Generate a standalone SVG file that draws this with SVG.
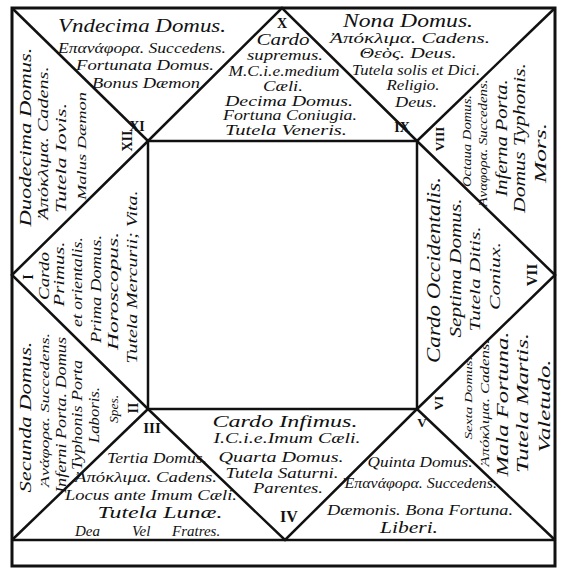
<svg xmlns="http://www.w3.org/2000/svg" width="570" height="580" viewBox="0 0 570 580">
<style>
.ln{fill:none;stroke:#111;stroke-width:2.5;stroke-linejoin:miter}
.fr{fill:none;stroke:#111;stroke-width:3}
text{font-family:"Liberation Serif","DejaVu Serif",serif;font-style:italic;fill:#111;text-anchor:middle}
.n{font-style:normal;font-weight:bold}
</style>
<rect width="570" height="580" fill="#fff"/>
<g id="connectors">
<rect class="fr" x="12" y="8" width="543" height="558"/>
<line class="ln" x1="12" y1="540" x2="555" y2="540"/>
<polygon class="ln" points="12,275 148,141 282,8 417,141 555,275 417,409 285,540 148,409"/>
<rect class="ln" x="148" y="141" width="269" height="268"/>
<line class="ln" x1="12" y1="8" x2="148" y2="141"/>
<line class="ln" x1="555" y1="8" x2="417" y2="141"/>
<line class="ln" x1="12" y1="540" x2="148" y2="409"/>
<line class="ln" x1="555" y1="540" x2="417" y2="409"/>
</g>
<g id="house-11">
<text x="142" y="32" font-size="19" textLength="168" lengthAdjust="spacingAndGlyphs">Vndecima Domus.</text>
<text x="142" y="53" font-size="14" textLength="168" lengthAdjust="spacingAndGlyphs">Επανάφορα. Succedens.</text>
<text x="145" y="70" font-size="15" textLength="138" lengthAdjust="spacingAndGlyphs">Fortunata Domus.</text>
<text x="146" y="88" font-size="15" textLength="108" lengthAdjust="spacingAndGlyphs">Bonus Dæmon</text>
<text class="n" x="137" y="131" font-size="14">XI</text>
</g>
<g id="house-10">
<text class="n" x="282" y="28" font-size="14">X</text>
<text x="283" y="45" font-size="17" textLength="53" lengthAdjust="spacingAndGlyphs">Cardo</text>
<text x="285" y="60" font-size="14" textLength="76" lengthAdjust="spacingAndGlyphs">supremus.</text>
<text x="284" y="76" font-size="14" textLength="111" lengthAdjust="spacingAndGlyphs">M.C.i.e.medium</text>
<text x="283" y="91" font-size="14" textLength="40" lengthAdjust="spacingAndGlyphs">Cæli.</text>
<text x="289" y="106" font-size="14" textLength="128" lengthAdjust="spacingAndGlyphs">Decima Domus.</text>
<text x="290" y="120" font-size="14" textLength="134" lengthAdjust="spacingAndGlyphs">Fortuna Coniugia.</text>
<text x="286" y="135" font-size="14" textLength="122" lengthAdjust="spacingAndGlyphs">Tutela Veneris.</text>
</g>
<g id="house-9">
<text x="408" y="27" font-size="19" textLength="130" lengthAdjust="spacingAndGlyphs">Nona Domus.</text>
<text x="410" y="43" font-size="14" textLength="160" lengthAdjust="spacingAndGlyphs">Ἀπόκλιμα. Cadens.</text>
<text x="408" y="58" font-size="14" textLength="97" lengthAdjust="spacingAndGlyphs">Θεὸς. Deus.</text>
<text x="416" y="75" font-size="14" textLength="128" lengthAdjust="spacingAndGlyphs">Tutela solis et Dici.</text>
<text x="413" y="90" font-size="15" textLength="53" lengthAdjust="spacingAndGlyphs">Religio.</text>
<text x="416" y="107" font-size="14" textLength="42" lengthAdjust="spacingAndGlyphs">Deus.</text>
<text class="n" x="402" y="132" font-size="14">IX</text>
</g>
<g id="house-12">
<text transform="translate(31,137) rotate(-90)" font-size="17" textLength="179" lengthAdjust="spacingAndGlyphs">Duodecima Domus.</text>
<text transform="translate(48,143) rotate(-90)" font-size="14" textLength="153" lengthAdjust="spacingAndGlyphs">Ἀπόκλιμα. Cadens.</text>
<text transform="translate(66,158) rotate(-90)" font-size="15" textLength="110" lengthAdjust="spacingAndGlyphs">Tutela Iovis.</text>
<text transform="translate(86,146) rotate(-90)" font-size="13" textLength="108" lengthAdjust="spacingAndGlyphs">Malus Dæmon</text>
<text class="n" transform="translate(132,141) rotate(-90)" font-size="14">XII</text>
</g>
<g id="house-1">
<text class="n" transform="translate(33,277) rotate(-90)" font-size="14">I</text>
<text transform="translate(49,276) rotate(-90)" font-size="15" textLength="48" lengthAdjust="spacingAndGlyphs">Cardo</text>
<text transform="translate(64,274) rotate(-90)" font-size="15" textLength="65" lengthAdjust="spacingAndGlyphs">Primus.</text>
<text transform="translate(82,282) rotate(-90)" font-size="14" textLength="90" lengthAdjust="spacingAndGlyphs">et orientalis.</text>
<text transform="translate(101,289) rotate(-90)" font-size="15" textLength="108" lengthAdjust="spacingAndGlyphs">Prima Domus.</text>
<text transform="translate(118,291) rotate(-90)" font-size="15" textLength="118" lengthAdjust="spacingAndGlyphs">Horoscopus.</text>
<text transform="translate(137,277) rotate(-90)" font-size="15" textLength="173" lengthAdjust="spacingAndGlyphs">Tutela Mercurii; Vita.</text>
</g>
<g id="house-2">
<text transform="translate(31,417) rotate(-90)" font-size="16" textLength="151" lengthAdjust="spacingAndGlyphs">Secunda Domus.</text>
<text transform="translate(49,410) rotate(-90)" font-size="13" textLength="154" lengthAdjust="spacingAndGlyphs">Ἀνάφορα. Succedens.</text>
<text transform="translate(66,415) rotate(-90)" font-size="14" textLength="156" lengthAdjust="spacingAndGlyphs">Inferni Porta. Domus</text>
<text transform="translate(82,415) rotate(-90)" font-size="14" textLength="110" lengthAdjust="spacingAndGlyphs">Typhonis Porta</text>
<text transform="translate(99,415) rotate(-90)" font-size="14" textLength="56" lengthAdjust="spacingAndGlyphs">Laboris.</text>
<text transform="translate(118,409) rotate(-90)" font-size="13" textLength="28" lengthAdjust="spacingAndGlyphs">Spes.</text>
<text class="n" transform="translate(138,408) rotate(-90)" font-size="14">II</text>
</g>
<g id="house-3">
<text class="n" x="152" y="433" font-size="15">III</text>
<text x="157" y="463" font-size="15" textLength="100" lengthAdjust="spacingAndGlyphs">Tertia Domus.</text>
<text x="146" y="482" font-size="14" textLength="142" lengthAdjust="spacingAndGlyphs">Ἀπόκλιμα. Cadens.</text>
<text x="151" y="500" font-size="15" textLength="172" lengthAdjust="spacingAndGlyphs">Locus ante Imum Cæli.</text>
<text x="160" y="518" font-size="17" textLength="125" lengthAdjust="spacingAndGlyphs">Tutela Lunæ.</text>
<text y="536" font-size="15" style="text-anchor:start"><tspan x="75">Dea</tspan> <tspan x="132">Vel</tspan> <tspan x="172">Fratres.</tspan></text>
</g>
<g id="house-4">
<text x="285" y="427" font-size="17" textLength="145" lengthAdjust="spacingAndGlyphs">Cardo Infimus.</text>
<text x="287" y="443" font-size="15" textLength="147" lengthAdjust="spacingAndGlyphs">I.C.i.e.Imum Cæli.</text>
<text x="281" y="462" font-size="15" textLength="125" lengthAdjust="spacingAndGlyphs">Quarta Domus.</text>
<text x="282" y="478" font-size="15" textLength="113" lengthAdjust="spacingAndGlyphs">Tutela Saturni.</text>
<text x="288" y="493" font-size="15" textLength="70" lengthAdjust="spacingAndGlyphs">Parentes.</text>
<text class="n" x="289" y="522" font-size="16">IV</text>
</g>
<g id="house-5">
<text class="n" x="422" y="427" font-size="13">V</text>
<text x="420" y="467" font-size="14" textLength="105" lengthAdjust="spacingAndGlyphs">Quinta Domus.</text>
<text x="420" y="488" font-size="14" textLength="154" lengthAdjust="spacingAndGlyphs">Ἐπανάφορα. Succedens.</text>
<text x="420" y="515" font-size="14" textLength="186" lengthAdjust="spacingAndGlyphs">Dæmonis. Bona Fortuna.</text>
<text x="409" y="533" font-size="16" textLength="58" lengthAdjust="spacingAndGlyphs">Liberi.</text>
</g>
<g id="house-6">
<text class="n" transform="translate(443,403) rotate(-90)" font-size="13">VI</text>
<text transform="translate(472,398) rotate(-90)" font-size="11" textLength="83" lengthAdjust="spacingAndGlyphs">Sexta Domus.</text>
<text transform="translate(489,403) rotate(-90)" font-size="12" textLength="127" lengthAdjust="spacingAndGlyphs">Ἀπόκλιμα. Cadens.</text>
<text transform="translate(508,404) rotate(-90)" font-size="17" textLength="145" lengthAdjust="spacingAndGlyphs">Mala Fortuna.</text>
<text transform="translate(528,403) rotate(-90)" font-size="16" textLength="140" lengthAdjust="spacingAndGlyphs">Tutela Martis.</text>
<text transform="translate(550,406) rotate(-90)" font-size="16" textLength="93" lengthAdjust="spacingAndGlyphs">Valetudo.</text>
</g>
<g id="house-7">
<text class="n" transform="translate(537,275) rotate(-90)" font-size="15">VII</text>
<text transform="translate(440,270) rotate(-90)" font-size="19" textLength="186" lengthAdjust="spacingAndGlyphs">Cardo Occidentalis.</text>
<text transform="translate(461,268) rotate(-90)" font-size="16" textLength="139" lengthAdjust="spacingAndGlyphs">Septima Domus.</text>
<text transform="translate(480,279) rotate(-90)" font-size="15" textLength="105" lengthAdjust="spacingAndGlyphs">Tutela Ditis.</text>
<text transform="translate(500,276) rotate(-90)" font-size="15" textLength="68" lengthAdjust="spacingAndGlyphs">Coniux.</text>
</g>
<g id="house-8">
<text class="n" transform="translate(444,139) rotate(-90)" font-size="13">VIII</text>
<text transform="translate(471,141) rotate(-90)" font-size="12" textLength="92" lengthAdjust="spacingAndGlyphs">Octaua Domus.</text>
<text transform="translate(487,143) rotate(-90)" font-size="12" textLength="127" lengthAdjust="spacingAndGlyphs">Ἀναφορα. Succedens.</text>
<text transform="translate(507,138) rotate(-90)" font-size="16" textLength="117" lengthAdjust="spacingAndGlyphs">Inferna Porta.</text>
<text transform="translate(525,138) rotate(-90)" font-size="16" textLength="150" lengthAdjust="spacingAndGlyphs">Domus Typhonis.</text>
<text transform="translate(546,153) rotate(-90)" font-size="16" textLength="60" lengthAdjust="spacingAndGlyphs">Mors.</text>
</g>
</svg>
